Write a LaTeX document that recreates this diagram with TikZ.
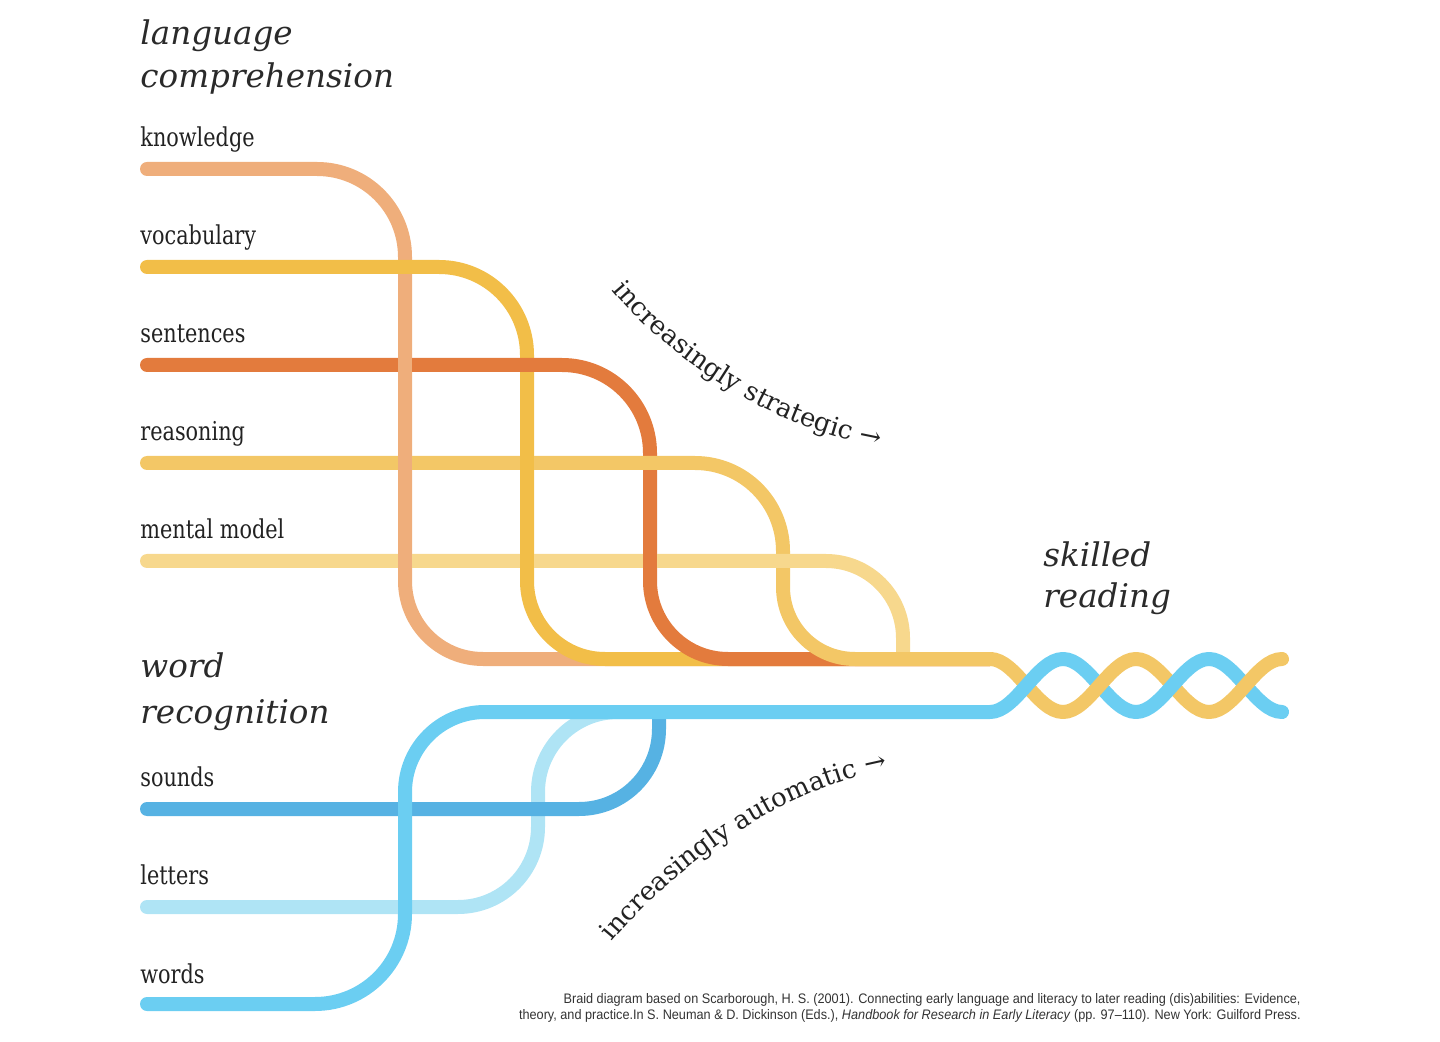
\documentclass[tikz,border=0pt]{standalone}
\usepackage{fontspec}
\setmainfont{DejaVu Serif}
\newfontfamily\lblfont[FakeStretch=0.8]{DejaVu Serif}
\newfontfamily\notefont[FakeStretch=0.92]{Liberation Sans}
\usetikzlibrary{decorations.text}
\definecolor{cK}{HTML}{EFAE7B}
\definecolor{cV}{HTML}{F2BE48}
\definecolor{cS}{HTML}{E37B3D}
\definecolor{cR}{HTML}{F3C766}
\definecolor{cM}{HTML}{F7D88D}
\definecolor{cSo}{HTML}{56B2E3}
\definecolor{cL}{HTML}{AFE4F5}
\definecolor{cW}{HTML}{6BCEF2}
\definecolor{txt}{HTML}{222222}
\definecolor{headc}{HTML}{2A2A2A}
\definecolor{notec}{HTML}{333333}
\begin{document}
\begin{tikzpicture}[x=0.5pt,y=-0.5pt,
  strand/.style={line width=7pt, line cap=round},
  patch/.style={line width=7pt, line cap=butt},
  lbl/.style={anchor=base west, inner sep=0pt, font=\lblfont\fontsize{13}{15}\selectfont, text=txt},
  head/.style={anchor=base west, inner sep=0pt, font=\itshape\fontsize{16.3}{19}\selectfont, text=headc},
  note/.style={anchor=base east, inner sep=0pt, font=\notefont\fontsize{6.9}{8}\selectfont, text=notec}]
\path[use as bounding box] (0,0) rectangle (1440,1042);

% headings
\node[head] (h1) at (140,45) {language};
\node[head] (h2) at (140,88) {comprehension};
\node[head] (h3) at (140,677) {word};
\node[head] (h4) at (140,723) {recognition};
\node[head] (h5) at (1043,567) {skilled};
\node[head] (h6) at (1043,608) {reading};

% labels
\node[lbl] (lk) at (140,147) {knowledge};
\node[lbl] (lv) at (140,245) {vocabulary};
\node[lbl] (ls) at (140,343) {sentences};
\node[lbl] (lr) at (140,441) {reasoning};
\node[lbl] (lm) at (140,539) {mental model};
\node[lbl] (lso) at (140,786) {sounds};
\node[lbl] (ll) at (140,884) {letters};
\node[lbl] (lw) at (140,983) {words};

% language comprehension strands
\draw[strand, cK] (147,169) -- (317,169) .. controls (365.6,169) and (405,208.4) .. (405,257) -- (405,581) .. controls (405,624.1) and (439.9,659) .. (483,659) -- (990,659);
\draw[strand, cV] (147,267) -- (439,267) .. controls (487.6,267) and (527,306.4) .. (527,355) -- (527,581) .. controls (527,624.1) and (561.9,659) .. (605,659) -- (990,659);
\draw[strand, cS] (147,365) -- (562,365) .. controls (610.6,365) and (650,404.4) .. (650,453) -- (650,581) .. controls (650,624.1) and (684.9,659) .. (728,659) -- (990,659);
\draw[strand, cR] (147,463) -- (695,463) .. controls (743.6,463) and (783,502.4) .. (783,551) -- (783,587) .. controls (783,626.8) and (815.2,659) .. (855,659) -- (990,659);
\draw[strand, cM] (147,561) -- (826,561) .. controls (868.5,561) and (903,595.5) .. (903,638) -- (903,652);
% weave patches
\draw[patch, cK] (405,355) -- (405,375) (405,453) -- (405,473) (405,551) -- (405,571);
\draw[patch, cV] (527,453) -- (527,473) (527,551) -- (527,571);
\draw[patch, cS] (650,551) -- (650,571);
\draw[patch, cR] (860,659) -- (992,659);

% word recognition strands
\draw[strand, cL] (147,907) -- (458,907) .. controls (502.2,907) and (538,871.2) .. (538,827) -- (538,792) .. controls (538,747.8) and (573.8,712) .. (618,712) -- (640,712);
\draw[strand, cSo] (147,809) -- (579,809) .. controls (623.2,809) and (659,773.2) .. (659,729) -- (659,714);
\draw[strand, cW] (147,1004) -- (315,1004) .. controls (364.7,1004) and (405,963.7) .. (405,914) -- (405,792) .. controls (405,747.8) and (440.8,712) .. (485,712) -- (990,712);

% braid
\draw[strand, cR] (990,659) .. controls (1016,659) and (1037,712) .. (1063,712);
\draw[strand, cW] (990,712) .. controls (1016,712) and (1037,659) .. (1063,659);
\draw[strand, cW] (1063,659) .. controls (1089,659) and (1110,712) .. (1136,712);
\draw[strand, cR] (1063,712) .. controls (1089,712) and (1110,659) .. (1136,659);
\draw[strand, cR] (1136,659) .. controls (1162,659) and (1183,712) .. (1209,712);
\draw[strand, cW] (1136,712) .. controls (1162,712) and (1183,659) .. (1209,659);
\draw[strand, cW] (1209,659) .. controls (1235,659) and (1256,712) .. (1282,712);
\draw[strand, cR] (1209,712) .. controls (1235,712) and (1256,659) .. (1282,659);

% curved captions
\path[decorate, decoration={text along path, text color=txt,
  text={|\fontsize{13}{13}\selectfont|increasingly strategic →}}]
  (612,290) .. controls (654,340) and (749,424) .. (882,447) -- (960,460);
\path[decorate, decoration={text along path, text color=txt,
  text={|\fontsize{13}{13}\selectfont|increasingly automatic →}}]
  (612,942) .. controls (663,881) and (763,796) .. (880,771) -- (960,757);

% footnote
\node[note] (n1) at (1301,1003) {Braid diagram based on Scarborough, H. S. (2001). Connecting early language and literacy to later reading (dis)abilities: Evidence,};
\node[note] (n2) at (1301,1019) {theory, and practice.In S. Neuman \& D. Dickinson (Eds.), \textit{Handbook for Research in Early Literacy} (pp. 97–110). New York: Guilford Press.};
\end{tikzpicture}
\end{document}
